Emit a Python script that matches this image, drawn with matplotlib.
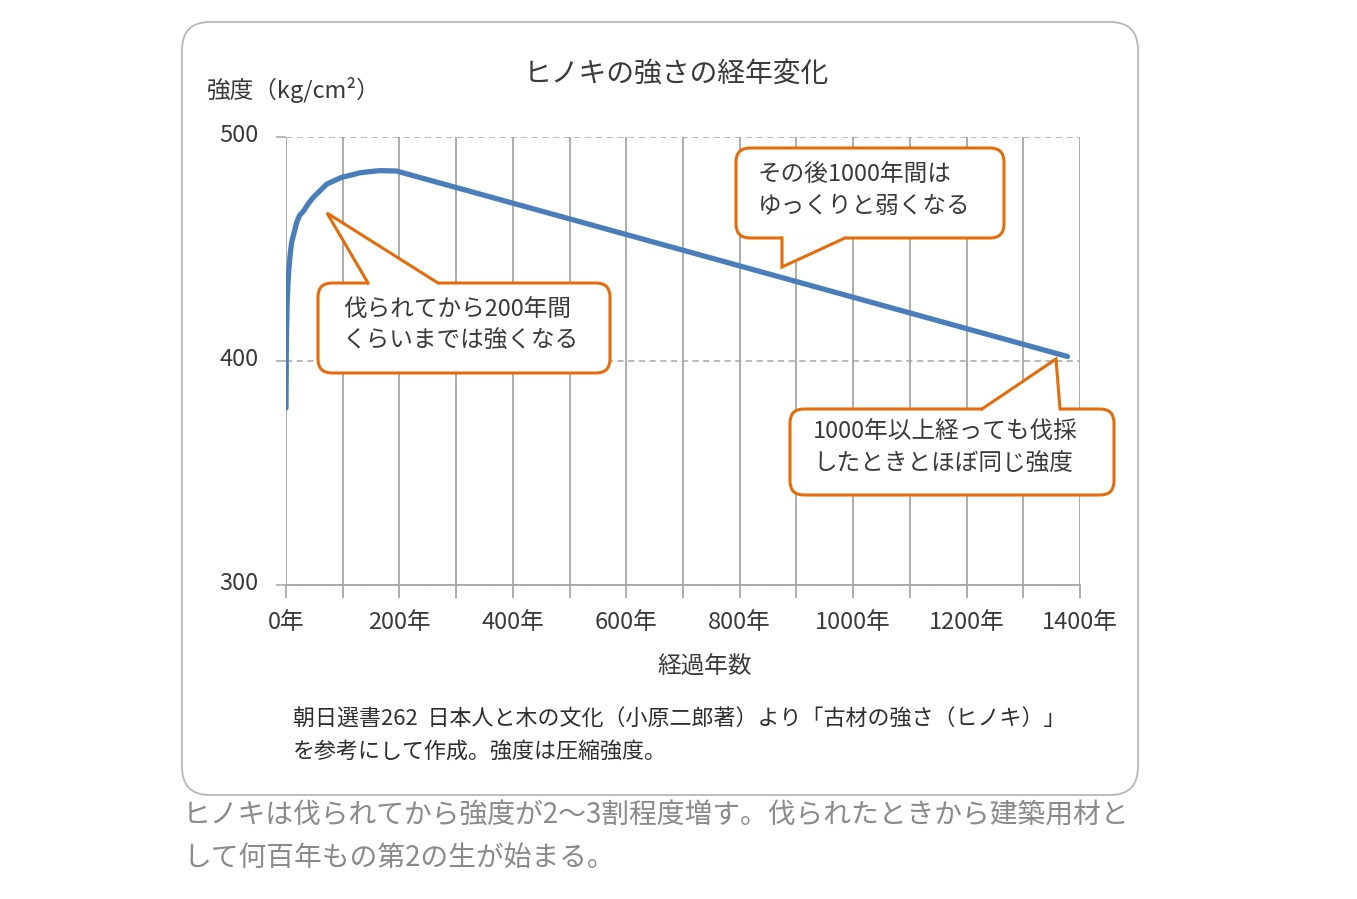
"""ヒノキの強さの経年変化 — recreated line chart with callouts."""

import matplotlib

matplotlib.use("Agg")
import matplotlib.pyplot as plt
from matplotlib.patches import FancyBboxPatch, Polygon
from matplotlib.transforms import ScaledTranslation

plt.rcParams["font.family"] = ["Noto Sans CJK JP", "DejaVu Sans"]

# data
years = [0, 0.5, 1, 2, 4, 6, 8, 10, 14, 19, 24, 31, 40, 48, 60, 72, 85, 98,
         115, 130, 150, 166, 195, 1378]
strength = [379, 403, 414, 426, 437, 444, 449, 453, 457, 462, 465, 467,
            470.5, 473, 476, 479, 480.5, 482, 483, 484, 484.6, 485, 484.8, 402]
x_ticks = list(range(0, 1401, 100))
x_labels = [f"{t}年" if t % 200 == 0 else "" for t in x_ticks]
y_ticks = [300, 400, 500]

TITLE = "ヒノキの強さの経年変化"
Y_TITLE = "強度（kg/cm²）"
X_TITLE = "経過年数"
NOTE = ["朝日選書262  日本人と木の文化（小原二郎著）より「古材の強さ（ヒノキ）」",
        "を参考にして作成。強度は圧縮強度。"]
CAPTION = ["ヒノキは伐られてから強度が2〜3割程度増す。伐られたときから建築用材と",
           "して何百年もの第2の生が始まる。"]
CALLOUTS = [
    ["伐られてから200年間", "くらいまでは強くなる"],
    ["その後1000年間は", "ゆっくりと弱くなる"],
    ["1000年以上経っても伐採", "したときとほぼ同じ強度"],
]

W, H = 1357, 899
BLUE = "#4a7ebb"
ORANGE = "#e46c0a"
GRID = "#a6a6a6"
TEXT = "#3a3a3a"


def pixel_axes(fig, zorder):
    a = fig.add_axes([0, 0, 1, 1], zorder=zorder)
    a.set_xlim(0, W)
    a.set_ylim(H, 0)
    a.axis("off")
    a.patch.set_alpha(0)
    return a


def callout(a, box, base, tip, lines, text_x, text_y):
    x0, y0, x1, y1 = box
    a.add_patch(FancyBboxPatch((x0, y0), x1 - x0, y1 - y0,
                               boxstyle="round,pad=0,rounding_size=14",
                               fc="white", ec=ORANGE, lw=2.2, zorder=1))
    a.add_patch(Polygon([base[0], tip, base[1]], closed=True, fc="white",
                        ec="none", zorder=2))
    a.plot([base[0][0], base[1][0]], [base[0][1], base[1][1]], color="white",
           lw=3.5, solid_capstyle="butt", zorder=2)
    a.plot([base[0][0], tip[0], base[1][0]], [base[0][1], tip[1], base[1][1]],
           color=ORANGE, lw=2.2, solid_joinstyle="miter", zorder=3)
    for i, s in enumerate(lines):
        a.text(text_x, text_y + i * 32, s, fontsize=17, color=TEXT,
               ha="left", va="center", zorder=4)


fig = plt.figure(figsize=(W / 100, H / 100), dpi=100)

bg = pixel_axes(fig, 0)
bg.add_patch(FancyBboxPatch((182, 22), 956, 773,
                            boxstyle="round,pad=0,rounding_size=28",
                            fc="white", ec="#b8b8b8", lw=1.3))

ax = fig.add_axes([286 / W, (H - 585) / H, (1080 - 286) / W, (585 - 137) / H],
                  zorder=1)
ax.patch.set_alpha(0)
ax.plot(years, strength, color=BLUE, lw=3.8, solid_capstyle="round",
        solid_joinstyle="round", zorder=3)
ax.set_xlim(0, 1400)
ax.set_ylim(300, 500)
ax.set_xticks(x_ticks)
ax.set_xticklabels(x_labels)
ax.set_yticks(y_ticks)
ax.grid(axis="x", color=GRID, lw=1.3, ls="-")
ax.grid(axis="y", color=GRID, lw=1.1, ls=(0, (4, 3)))
for side in ("top", "right", "left"):
    ax.spines[side].set_visible(False)
ax.spines["bottom"].set_color(GRID)
ax.spines["bottom"].set_linewidth(1.3)
ax.tick_params(axis="x", length=9, width=1.3, color=GRID, pad=10,
               labelsize=17, labelcolor=TEXT)
ax.tick_params(axis="y", length=7, width=1.1, color=GRID, pad=13,
               labelsize=17, labelcolor=TEXT)
# y labels sit a few pixels above their gridlines in the reference
lift = ScaledTranslation(0, 4 / 100, fig.dpi_scale_trans)
for lab in ax.get_yticklabels():
    lab.set_transform(lab.get_transform() + lift)

fg = pixel_axes(fig, 3)
fg.text(676, 75, TITLE, fontsize=20, color=TEXT, ha="center", va="center")
fg.text(207, 90, Y_TITLE, fontsize=17, color=TEXT, ha="left", va="center")
fg.text(705, 667, X_TITLE, fontsize=17, color=TEXT, ha="center", va="center")
for i, s in enumerate(NOTE):
    fg.text(293, 720 + i * 32, s, fontsize=15.8, color="#2e2e2e",
            ha="left", va="center")
for i, s in enumerate(CAPTION):
    fg.text(183, 816 + i * 42, s, fontsize=20, color="#8a8a8a",
            ha="left", va="center")

callout(fg, (318, 283, 610, 373), [(368, 283), (438, 283)], (327, 213),
        CALLOUTS[0], 343, 309)
callout(fg, (736, 148, 1004, 238), [(782, 238), (845, 238)], (782, 267),
        CALLOUTS[1], 758, 174)
callout(fg, (790, 409, 1114, 495), [(982, 409), (1060, 409)], (1056, 359),
        CALLOUTS[2], 813, 432)

fig.savefig("out.png", dpi=100)
